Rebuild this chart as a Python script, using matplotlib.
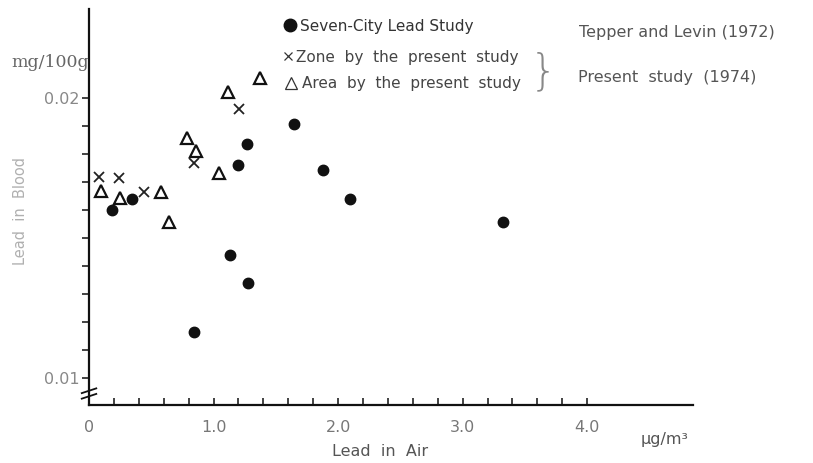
import matplotlib.pyplot as plt

# Seven-City Lead Study (Tepper and Levin 1972)
city_x = [0.185, 0.345, 0.843, 1.133, 1.197, 1.269, 1.277, 1.647, 1.880, 2.096, 3.325]
city_y = [0.0160, 0.01639, 0.01164, 0.01439, 0.01761, 0.01836, 0.01339, 0.01907, 0.01743, 0.01639, 0.01557]

# Zone by the present study
zone_x = [0.08, 0.24, 0.44, 0.843, 1.205]
zone_y = [0.01718, 0.01714, 0.01664, 0.01768, 0.01961]

# Area by the present study
area_x = [0.10, 0.25, 0.578, 0.643, 0.787, 0.859, 1.044, 1.116, 1.373]
area_y = [0.01668, 0.01643, 0.01664, 0.01557, 0.01857, 0.01811, 0.01732, 0.02021, 0.02071]

x_ticks = [0, 1, 2, 3, 4]
x_labels = ['0', '1.0', '2.0', '3.0', '4.0']
y_ticks = [0.01, 0.02]
y_labels = ['0.01', '0.02']

plt.rcParams['font.family'] = ['DejaVu Sans']

fig = plt.figure(figsize=(8.13, 4.64), dpi=100)
ax = fig.add_axes([0.1095, 0.125, 0.743, 0.853])

ax.plot(city_x, city_y, 'o', color='#111111', markersize=7.5, clip_on=False)
ax.plot(zone_x, zone_y, 'x', color='#222222', markersize=6.5, markeredgewidth=1.3, clip_on=False)
ax.plot(area_x, area_y, '^', markerfacecolor='none', markeredgecolor='#111111',
        markersize=9, markeredgewidth=1.6, clip_on=False)

ax.set_xlim(0, 4.85)
ax.set_ylim(0.00904, 0.02318)

for s in ['top', 'right']:
    ax.spines[s].set_visible(False)
ax.spines['left'].set_linewidth(1.6)
ax.spines['bottom'].set_linewidth(1.6)
ax.spines['left'].set_color('#111111')
ax.spines['bottom'].set_color('#111111')

ax.set_xticks([i * 0.2 for i in range(1, 21)])
ax.set_xticklabels([])
ax.tick_params(axis='x', direction='in', length=5, width=1.2, color='#222222')
ax.set_yticks([0.01 + i * 0.001 for i in range(11)])
ax.set_yticklabels([])
ax.tick_params(axis='y', direction='out', length=5, width=1.2, color='#222222')

# tick labels drawn as text so only the main values show
for v, lab in zip(x_ticks, x_labels):
    ax.text(v, -0.035, lab, transform=ax.get_xaxis_transform(), ha='center', va='top',
            fontsize=11.5, color='#777777')
for v, lab in zip(y_ticks, y_labels):
    ax.text(-0.015, v, lab, transform=ax.get_yaxis_transform(),
            ha='right', va='center', fontsize=11.5, color='#888888')

fig.text(0.062, 0.866, 'mg/100g', ha='center', va='center', fontsize=12.5, color='#666666',
         family=['DejaVu Serif'])
fig.text(0.818, 0.052, 'μg/m³', ha='center', va='center', fontsize=11.5, color='#555555')
fig.text(0.468, 0.026, 'Lead  in  Air', ha='center', va='center', fontsize=11.5, color='#555555')
fig.text(0.025, 0.545, 'Lead  in  Blood', ha='center', va='center', rotation=90,
         fontsize=10.5, color='#b0b0b0')

# axis break marks
for dy in [0.022, 0.036]:
    ax.plot([-0.012, 0.012], [dy - 0.006, dy + 0.006], transform=ax.transAxes,
            color='#111111', lw=1.3, clip_on=False)

# legend written by hand
ax.plot([0.357], [0.945], 'o', transform=fig.transFigure, color='#111111', markersize=9, clip_on=False)
fig.text(0.369, 0.942, 'Seven-City Lead Study', va='center', fontsize=11, color='#333333')
ax.plot([0.354], [0.877], 'x', transform=fig.transFigure, color='#333333', markersize=5.5,
        markeredgewidth=0.9, clip_on=False)
fig.text(0.364, 0.877, 'Zone  by  the  present  study', va='center', fontsize=11, color='#444444')
ax.plot([0.358], [0.819], '^', transform=fig.transFigure, markerfacecolor='none',
        markeredgecolor='#333333', markersize=8, markeredgewidth=0.9, clip_on=False)
fig.text(0.371, 0.819, 'Area  by  the  present  study', va='center', fontsize=11, color='#444444')

fig.text(0.668, 0.846, '}', va='center', ha='center', fontsize=31, color='#888888',
         fontweight='light')
fig.text(0.712, 0.929, 'Tepper and Levin (1972)', va='center', fontsize=11.5, color='#555555')
fig.text(0.711, 0.832, 'Present  study  (1974)', va='center', fontsize=11.5, color='#555555')

fig.savefig('out.png', dpi=100)
